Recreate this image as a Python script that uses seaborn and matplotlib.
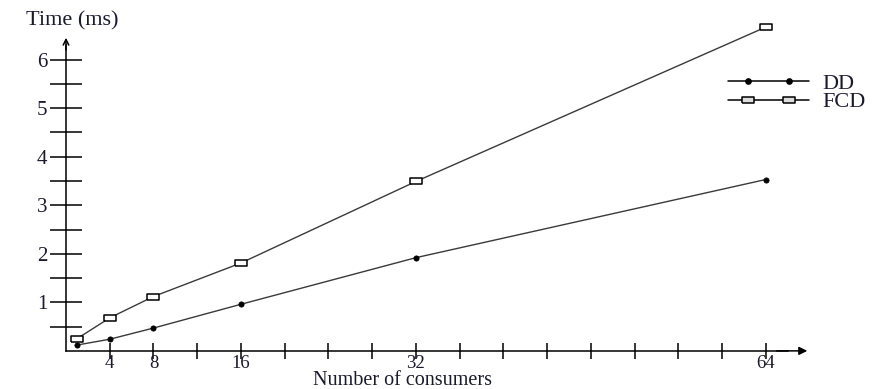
import numpy as np
import pandas as pd
import matplotlib
matplotlib.use("Agg")
import matplotlib.pyplot as plt
import seaborn as sns
from matplotlib.lines import Line2D
from matplotlib.legend_handler import HandlerLine2D, HandlerTuple

# data
consumers = [1, 4, 8, 16, 32, 64]
dd_time = [0.12, 0.24, 0.47, 0.96, 1.92, 3.53]
fcd_time = [0.25, 0.68, 1.12, 1.81, 3.49, 6.67]

x_ticks = list(range(4, 65, 4))
x_labels = ["4", "8", "16", "32", "64"]
y_ticks_major = [1, 2, 3, 4, 5, 6]
y_ticks_minor = [0.5, 1.5, 2.5, 3.5, 4.5, 5.5]

df = pd.DataFrame({"consumers": consumers, "DD": dd_time, "FCD": fcd_time})

sns.set_theme(style="white")
plt.rcParams["font.family"] = ["Liberation Serif", "DejaVu Serif"]

line_col = "#3a3a3a"
txt_col = "#1a1a2e"
rect_marker = [(-1, -0.5), (1, -0.5), (1, 0.5), (-1, 0.5), (-1, -0.5)]

fig = plt.figure(figsize=(8.8, 3.89), dpi=100)
ax = fig.add_axes([0.075, 0.098, 0.8697, 0.861])

sns.lineplot(data=df, x="consumers", y="DD", ax=ax, color=line_col, lw=1.0,
             marker="o", markersize=3.8, markerfacecolor="black",
             markeredgecolor="black", markeredgewidth=0.5, clip_on=False)
sns.lineplot(data=df, x="consumers", y="FCD", ax=ax, color=line_col, lw=1.0,
             marker=rect_marker, markersize=9, markerfacecolor="white",
             markeredgecolor="black", markeredgewidth=1.1, clip_on=False)

ax.set_xlim(0, 70)
ax.set_ylim(0, 6.9)

# axes drawn as arrows
for s in ["top", "right"]:
    ax.spines[s].set_visible(False)
ax.spines["left"].set_bounds(0, 6.3)
ax.spines["bottom"].set_bounds(0, 66)
for s in ["left", "bottom"]:
    ax.spines[s].set_color("black")
    ax.spines[s].set_linewidth(1.1)
ax.annotate("", xy=(0, 6.45), xytext=(0, 6.2),
            arrowprops=dict(arrowstyle="->", color="black", lw=1.1,
                            shrinkA=0, shrinkB=0, mutation_scale=10))
ax.annotate("", xy=(67.8, 0), xytext=(65, 0),
            arrowprops=dict(arrowstyle="-|>", color="black", lw=1.1,
                            shrinkA=0, shrinkB=0, mutation_scale=12))

ax.set_xticks(x_ticks)
ax.set_xticklabels([str(t) if str(t) in x_labels else "" for t in x_ticks])
ax.set_yticks(y_ticks_major)
ax.set_yticks(y_ticks_minor, minor=True)
ax.tick_params(axis="x", direction="inout", length=11, width=1.1, bottom=True,
               colors="black", labelcolor=txt_col, labelsize=13.5, pad=-2.5)
ax.tick_params(axis="y", which="both", direction="inout", length=23, left=True,
               width=1.1, colors="black", labelcolor=txt_col, labelsize=15,
               pad=2)

ax.set_xlabel("Number of consumers", fontsize=14.5, color=txt_col)
ax.xaxis.set_label_coords(0.44, -0.088)
ax.xaxis.label.set_va("center")
ax.set_ylabel("Time (ms)", fontsize=16, color=txt_col, rotation=0)
ax.yaxis.set_label_coords(0.008, 0.985)
ax.yaxis.label.set_va("center")
ax.yaxis.label.set_ha("center")

# legend: plain line with two markers sitting inside it
dd_line = Line2D([], [], color="black", lw=1.1)
dd_mark = Line2D([], [], ls="none", marker="o", ms=3.8, mfc="black", mec="black")
fcd_line = Line2D([], [], color="black", lw=1.1)
fcd_mark = Line2D([], [], ls="none", marker=rect_marker, ms=9, mfc="#dddddd",
                  mec="black", mew=1.1)
ax.legend([(dd_line, dd_mark), (fcd_line, fcd_mark)], ["DD", "FCD"],
          handler_map={tuple: HandlerTuple(ndivide=1),
                       dd_line: HandlerLine2D(marker_pad=0, numpoints=2),
                       fcd_line: HandlerLine2D(marker_pad=0, numpoints=2),
                       dd_mark: HandlerLine2D(marker_pad=0.9, numpoints=2),
                       fcd_mark: HandlerLine2D(marker_pad=0.9, numpoints=2)},
          frameon=False, fontsize=16, handlelength=3.65, handletextpad=0.6,
          labelspacing=-0.1, loc="upper left", bbox_to_anchor=(0.853, 0.855),
          borderaxespad=0, labelcolor=txt_col)

fig.savefig("out.png", dpi=100)
